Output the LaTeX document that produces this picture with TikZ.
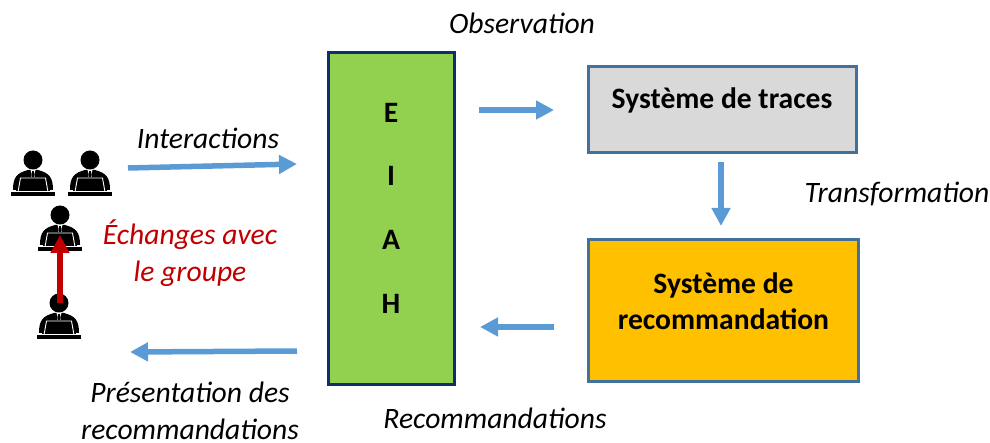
\documentclass[tikz,border=0pt]{standalone}
\usepackage{fontspec}
\setmainfont{Carlito}
\usetikzlibrary{arrows.meta}
\definecolor{arrowblue}{HTML}{5B9BD5}
\definecolor{boxblue}{HTML}{41719C}
\definecolor{navy}{HTML}{0F2F6B}
\definecolor{eiahgreen}{HTML}{92D050}
\definecolor{tracegray}{HTML}{D9D9D9}
\definecolor{recoyellow}{HTML}{FFC000}
\definecolor{darkred}{HTML}{C00000}
\tikzset{
  x=1pt,y=-1pt,
  flow/.style={draw=arrowblue,line width=5.5pt,-{Triangle[length=18pt,width=18pt]}},
  redflow/.style={draw=darkred,line width=6pt,-{Triangle[length=18pt,width=18pt]}},
  boxtext/.style={font=\fontsize{29.6}{36}\selectfont\bfseries,align=center,text=black},
  lab/.style={font=\fontsize{29.6}{37}\selectfont\itshape,align=center,text=black,inner sep=0pt},
  person/.pic={
    \fill[black] (0,0) circle (9.5);
    \fill[black] (-20,30) .. controls (-20,17) and (-16,13) .. (-5,10) -- (5,10) .. controls (16,13) and (20,17) .. (20,30) -- cycle;
    \fill[white] (-2.5,10) -- (2.5,10) -- (1.2,14) -- (2,20) -- (-2,20) -- (-1.2,14) -- cycle;
    \fill[black] (-1,11) -- (1,11) -- (1,19) -- (-1,19) -- cycle;
    \fill[black] (-15,17) -- (15,17) -- (17,31) -- (-17,31) -- cycle;
    \draw[white,line width=0.9pt] (-15,32) -- (-12.5,18) -- (12.5,18) -- (15,32);
    \fill[black] (-22,32.5) rectangle (22,36);
  }
}
\begin{document}
\begin{tikzpicture}
\useasboundingbox (0,0) rectangle (990,443);
% boxes
\node[draw=navy,line width=3pt,fill=eiahgreen,minimum width=126pt,minimum height=332pt,inner sep=0pt,anchor=center] (eiah) at (391.5,218.5) {};
\node[draw=boxblue,line width=3pt,fill=tracegray,minimum width=268pt,minimum height=86pt,inner sep=0pt,anchor=center] (traces) at (722,109.5) {};
\node[boxtext] (tracestext) at (722,100) {Système de traces};
\node[draw=boxblue,line width=3pt,fill=recoyellow,minimum width=270pt,minimum height=142pt,inner sep=0pt,anchor=center] (reco) at (723.5,310.5) {};
\node[boxtext] (recotext) at (723.5,301) {Système de\\recommandation};
% EIAH letters
\node[boxtext] (le) at (391,113) {E};
\node[boxtext] (li) at (391,176) {I};
\node[boxtext] (la) at (391,240) {A};
\node[boxtext] (lh) at (391,304) {H};
% people
\pic (p1) at (33,160) {person};
\pic (p2) at (90,160) {person};
\pic (p3) at (60,215) {person};
\pic (p4) at (59,303) {person};
% connector ends
\coordinate (inta) at (128,168);
\coordinate (intb) at (297,164);
\coordinate (obsa) at (479,110);
\coordinate (obsb) at (554,110);
\coordinate (tra) at (721,162);
\coordinate (trb) at (721,226);
\coordinate (reca) at (554,327);
\coordinate (recb) at (480,327);
\coordinate (prea) at (297,351);
\coordinate (preb) at (130,352);
\coordinate (reda) at (60,303);
\coordinate (redb) at (60,235);
\draw[flow] (inta) -- (intb);
\draw[flow] (obsa) -- (obsb);
\draw[flow] (tra) -- (trb);
\draw[flow] (reca) -- (recb);
\draw[flow] (prea) -- (preb);
\draw[redflow] (reda) -- (redb);
% labels
\node[lab] (obs) at (522,23) {Observation};
\node[lab] (int) at (208,138) {Interactions};
\node[lab] (tr) at (897,194) {Transformation};
\node[lab] (rec) at (495,418) {Recommandations};
\node[lab] (pre) at (190,411) {Présentation des\\recommandations};
\node[lab,text=darkred] (ech) at (190,253) {Échanges avec\\le groupe};
\end{tikzpicture}
\end{document}
